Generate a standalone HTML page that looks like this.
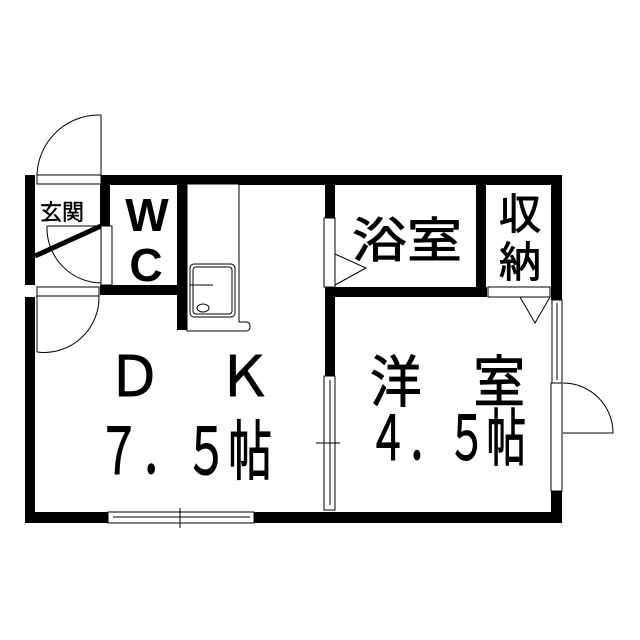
<!DOCTYPE html>
<html><head><meta charset="utf-8"><style>html,body{margin:0;padding:0;background:#fff}svg{display:block}</style></head>
<body>
<svg width="640" height="640" viewBox="0 0 640 640" xmlns="http://www.w3.org/2000/svg" font-family="'Liberation Sans','Noto Sans CJK JP',sans-serif">
<rect width="640" height="640" fill="#fff"/>
<g fill="#000">
<rect x="100" y="175" width="461" height="10"/>
<rect x="25" y="175" width="10" height="110"/>
<rect x="25" y="297" width="10" height="226"/>
<rect x="25" y="512" width="83" height="11"/>
<rect x="254" y="512" width="307" height="11"/>
<rect x="551" y="175" width="11" height="125"/>
<rect x="551" y="490" width="11" height="33"/>
<rect x="100" y="184" width="10" height="42"/>
<rect x="100" y="285" width="87" height="10"/>
<rect x="177" y="184" width="10" height="146"/>
<rect x="325" y="184" width="10" height="34"/>
<rect x="325" y="287" width="10" height="89"/>
<rect x="335" y="287" width="152" height="10"/>
<rect x="476" y="184" width="10" height="113"/>
</g>
<line x1="35" y1="256" x2="101" y2="226" stroke="#000" stroke-width="5"/>
<g fill="#fff" stroke="#000" stroke-width="1">
<rect x="37" y="175" width="64" height="9"/>
<rect x="101" y="226" width="11" height="59"/>
<rect x="37" y="287" width="62" height="9"/>
<rect x="324" y="218" width="11" height="69"/>
<rect x="488" y="287" width="62" height="10"/>
<rect x="552" y="300" width="10" height="83"/>
<rect x="551" y="383" width="11" height="108"/>
<rect x="324" y="376" width="11" height="134"/>
<rect x="108" y="512" width="146" height="11"/>
<path d="M187 184 H239 V322 H246 Q250 322 250 326 Q250 331 246 331 H187 Z"/>
<rect x="190" y="264" width="45" height="53" rx="4"/>
<rect x="193" y="267" width="39" height="47" rx="3"/>
<ellipse cx="203" cy="308" rx="6" ry="4"/>
</g>
<g fill="none" stroke="#000" stroke-width="1">
<line x1="101" y1="115" x2="101" y2="175"/>
<path d="M101 115 A62 62 0 0 0 37 175"/>
<path d="M47 226 A55 55 0 0 0 101 283"/>
<line x1="47" y1="226" x2="101" y2="226"/>
<path d="M99 296 A55 55 0 0 1 37 352"/>
<line x1="37" y1="296" x2="37" y2="352"/>
<path d="M335 254 L366 268 L335 285"/>
<path d="M520 297 L535 323 L550 297"/>
<path d="M563 383 A50 50 0 0 1 613 433 L563 433"/>
<line x1="330" y1="380" x2="330" y2="505"/>
<line x1="316" y1="443" x2="340" y2="443"/>
<line x1="113" y1="517" x2="250" y2="517"/>
<line x1="180" y1="508" x2="180" y2="528"/>
<line x1="557" y1="303" x2="557" y2="380"/>
<line x1="190" y1="285" x2="213" y2="285"/>
</g>
<g fill="#000" stroke="#000" stroke-width="0.9">
<text x="40" y="220" font-size="22" stroke-width="0.4">玄関</text>
<text x="147" y="231" font-size="46" font-weight="bold" text-anchor="middle" stroke="none">W</text>
<text x="146" y="281" font-size="46" font-weight="bold" text-anchor="middle" stroke="none">C</text>
<text x="352" y="257" font-size="48" textLength="110" lengthAdjust="spacingAndGlyphs">浴室</text>
<text x="499" y="229" font-size="42">収</text>
<text x="499" y="277" font-size="42">納</text>
<text x="107" y="396" font-size="56" textLength="165" lengthAdjust="spacingAndGlyphs">Ｄ　Ｋ</text>
<text transform="translate(97,474) scale(1,1.35)" font-size="48" stroke-width="0.8" textLength="175" lengthAdjust="spacingAndGlyphs">７．５帖</text>
<text x="370" y="402" font-size="56" textLength="155" lengthAdjust="spacingAndGlyphs">洋　室</text>
<text transform="translate(368,460) scale(1,1.35)" font-size="46" stroke-width="0.8" textLength="158" lengthAdjust="spacingAndGlyphs">４．５帖</text>
</g>
</svg>
</body></html>
